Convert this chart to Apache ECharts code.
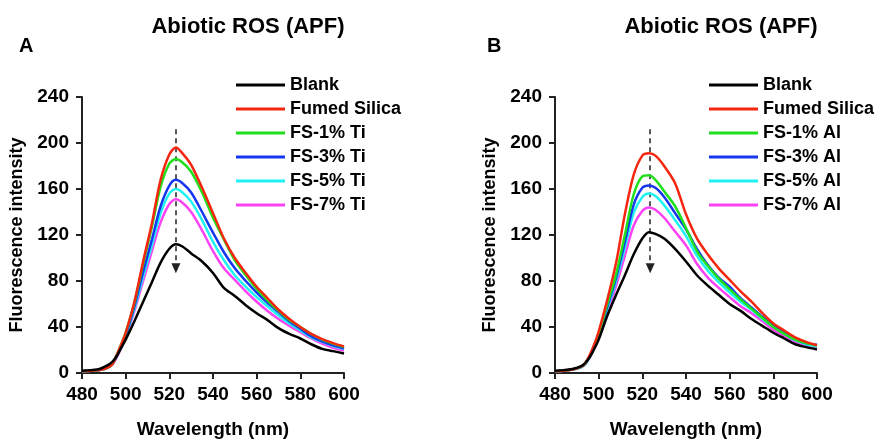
<!DOCTYPE html>
<html>
<head>
<meta charset="utf-8">
<script src="https://cdn.jsdelivr.net/npm/echarts@6/dist/echarts.min.js"></script>
<style>
html, body { margin: 0; padding: 0; background: #fff; }
#chart { width: 880px; height: 439px; }
</style>
</head>
<body>
<div id="chart"></div>
<script>
// 波长 (nm)
var wavelength = [480, 484, 488, 492, 494, 496, 498, 500, 504, 508, 512, 516, 520, 523, 526, 530, 535, 540, 545, 550, 555, 560, 565, 570, 575, 580, 585, 590, 595, 600];

// Panel A - Ti
var blankA  = [2, 2.5, 3.5, 7, 10, 15, 22, 29, 45, 62, 79, 96, 108, 112, 110, 104, 97, 87, 74, 67, 59, 52, 46, 39, 34, 30, 25, 21, 19, 17];
var fumedA  = [1.5, 2, 2.5, 5, 8, 16, 25, 35, 62, 97, 130, 168, 190, 196, 191, 181, 161, 139, 117, 100, 87, 75, 65, 55, 47, 40, 34, 29.5, 26, 23];
var ti1     = [1.5, 2, 2.5, 5, 8, 16, 25, 35, 61, 95, 127, 162, 182, 186, 183, 175, 157, 135, 116, 98, 85, 73, 63, 54, 46, 40, 34, 29, 25.5, 22.5];
var ti3     = [1.5, 2, 2.5, 5, 8, 15, 24, 33, 58, 88, 116, 145, 163, 168, 165, 157, 140, 122, 105, 91, 80, 70, 61, 53, 45, 38.5, 32, 27.5, 24, 21.5];
var ti5     = [1.5, 2, 2.5, 5, 8, 15, 23, 32, 56, 84, 111, 139, 156, 160, 157, 149, 133, 114, 98, 85, 75, 66, 58, 50, 43, 37, 31, 27, 23.5, 21];
var ti7     = [1.5, 2, 2.5, 5, 7.5, 14, 22, 31, 54, 80, 106, 131, 147, 151, 148, 140, 124, 106, 91, 81, 71, 62, 54, 47, 41, 35.5, 30, 25.5, 22, 19.5];

// Panel B - Al
var blankB  = [2, 2.5, 3.5, 6, 9, 14, 21, 29, 50, 68, 85, 103, 117, 122.5, 121, 117, 108, 97, 85, 76, 68, 60, 54, 47, 41, 35, 30, 25, 22.5, 20.5];
var fumedB  = [1.5, 2, 3, 5.5, 9, 16, 25, 36, 64, 96, 138, 172, 189, 191, 189, 180, 165, 138, 117, 103, 91, 81, 71, 62, 52, 43, 37, 31, 27, 24];
var al1     = [1.5, 2, 3, 5.5, 8.5, 15, 24, 34, 60, 86, 120, 155, 171, 172, 168, 158, 145, 126, 106, 93, 82, 73, 64, 56, 48, 40, 34, 29, 26, 24];
var al3     = [1.5, 2, 3, 5.5, 8.5, 15, 24, 33, 58, 83, 114, 146, 161, 163, 161, 153, 139, 125, 108, 94, 83, 75, 65, 57, 49, 41.5, 35, 29.5, 26, 24.5];
var al5     = [1.5, 2, 3, 5, 8, 14.5, 23, 32, 56, 80, 109, 139, 153, 156, 154, 146, 133, 119, 102, 89, 79, 70, 62, 55, 47, 40, 34, 28.5, 25, 23];
var al7     = [1.5, 2, 3, 5, 8, 14, 22, 31, 53, 76, 102, 128, 141, 144, 142, 135, 123, 111, 95, 83, 74, 66, 58, 52, 45, 37.5, 32, 27, 24, 22];

// 箭头位置 [x, y起点, y终点]
var arrowA = [523, 212, 91];
var arrowB = [523.6, 212, 91];

var namesA = ['Blank', 'Fumed Silica', 'FS-1% Ti', 'FS-3% Ti', 'FS-5% Ti', 'FS-7% Ti'];
var namesB = ['Blank', 'Fumed Silica', 'FS-1% Al', 'FS-3% Al', 'FS-5% Al', 'FS-7% Al'];
var colors = ['#000000', '#f5260f', '#1fe01a', '#1537f0', '#1ff2f2', '#fb42f5'];

var font = 'Liberation Sans, Arial, sans-serif';

function toPairs(ys) {
    var out = [];
    for (var i = 0; i < wavelength.length; i++) {
        out.push([wavelength[i], ys[i]]);
    }
    return out;
}

function makeSeries(names, datas, idx, arrow) {
    var list = [];
    for (var i = 0; i < names.length; i++) {
        list.push({
            name: names[i],
            type: 'line',
            xAxisIndex: idx,
            yAxisIndex: idx,
            data: toPairs(datas[i]),
            showSymbol: false,
            smooth: 0.3,
            lineStyle: { width: 2.5, color: colors[i] },
            itemStyle: { color: colors[i] },
            z: 10 - i
        });
    }
    // 虚线箭头
    list.push({
        type: 'line',
        xAxisIndex: idx,
        yAxisIndex: idx,
        data: [],
        silent: true,
        markLine: {
            silent: true,
            symbol: ['none', 'triangle'],
            symbolSize: [9, 10],
            label: { show: false },
            lineStyle: { type: [5, 4], color: '#222', width: 1.5 },
            data: [[{ coord: [arrow[0], arrow[1]] }, { coord: [arrow[0], arrow[2]] }]]
        },
        z: 20
    });
    return list;
}

function makeX(idx) {
    return {
        type: 'value', gridIndex: idx, min: 480, max: 600, interval: 20,
        name: 'Wavelength (nm)', nameLocation: 'middle', nameGap: 47,
        nameTextStyle: { fontFamily: font, fontWeight: 'bold', fontSize: 19, color: '#000' },
        axisLine: { show: true, lineStyle: { color: '#222', width: 2 } },
        axisTick: { show: true, length: 6, lineStyle: { color: '#222', width: 2 } },
        axisLabel: { margin: 12, fontFamily: font, fontWeight: 'bold', fontSize: 19, color: '#000' },
        splitLine: { show: false }
    };
}

function makeY(idx) {
    return {
        type: 'value', gridIndex: idx, min: 0, max: 240, interval: 40,
        name: 'Fluorescence intensity', nameLocation: 'middle', nameGap: 56,
        nameTextStyle: { fontFamily: font, fontWeight: 'bold', fontSize: 18, color: '#000' },
        axisLine: { show: true, lineStyle: { color: '#222', width: 2 } },
        axisTick: { show: true, length: 6, lineStyle: { color: '#222', width: 2 } },
        axisLabel: { margin: 13, fontFamily: font, fontWeight: 'bold', fontSize: 19, color: '#000' },
        splitLine: { show: false }
    };
}

function makeLegend(names, left) {
    return {
        orient: 'vertical', left: left, top: 71,
        data: names, icon: 'rect', itemWidth: 49, itemHeight: 3, itemGap: 6,
        selectedMode: false,
        textStyle: { fontFamily: font, fontWeight: 'bold', fontSize: 18, color: '#000', lineHeight: 18 }
    };
}

var myChart = echarts.init(document.getElementById('chart'));

var option = {
    animation: false,
    backgroundColor: '#fff',
    title: [
        { text: 'Abiotic ROS (APF)', left: 243, top: 11, textAlign: 'center',
          textStyle: { fontFamily: font, fontWeight: 'bold', fontSize: 22, color: '#000' } },
        { text: 'Abiotic ROS (APF)', left: 716, top: 11, textAlign: 'center',
          textStyle: { fontFamily: font, fontWeight: 'bold', fontSize: 22, color: '#000' } },
        { text: 'A', left: 14, top: 31, textStyle: { fontFamily: font, fontWeight: 'bold', fontSize: 20, color: '#000' } },
        { text: 'B', left: 482, top: 31, textStyle: { fontFamily: font, fontWeight: 'bold', fontSize: 20, color: '#000' } }
    ],
    legend: [makeLegend(namesA, 231), makeLegend(namesB, 704)],
    grid: [
        { left: 82, top: 97, width: 262, height: 276, outerBoundsMode: 'none', containLabel: false },
        { left: 555, top: 97, width: 262, height: 276, outerBoundsMode: 'none', containLabel: false }
    ],
    xAxis: [makeX(0), makeX(1)],
    yAxis: [makeY(0), makeY(1)],
    series: makeSeries(namesA, [blankA, fumedA, ti1, ti3, ti5, ti7], 0, arrowA)
        .concat(makeSeries(namesB, [blankB, fumedB, al1, al3, al5, al7], 1, arrowB))
};

myChart.setOption(option);
</script>
</body>
</html>
